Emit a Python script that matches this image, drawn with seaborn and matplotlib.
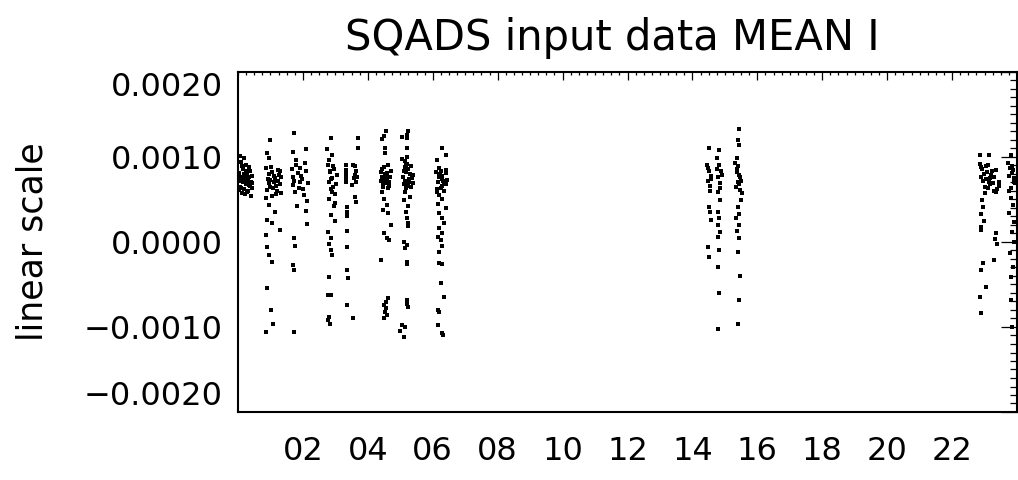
import pandas as pd
import matplotlib
matplotlib.use("Agg")
import matplotlib.pyplot as plt
import matplotlib.ticker as mticker
import seaborn as sns

# Values: hour of day and MEAN I (in units of 1e-4)
p1_hour = [0.02, 0.04, 0.06, 0.08, 0.10, 0.12, 0.14, 0.16, 0.18, 0.20, 0.22, 0.24, 0.26, 0.28, 0.30,
           0.32, 0.34, 0.36, 0.38, 0.40, 0.42, 0.44, 0.05, 0.09, 0.13, 0.17, 0.21, 0.25, 0.29, 0.33,
           0.37, 0.41, 0.03, 0.11, 0.19, 0.27, 0.35, 0.43]
p1_val = [7.2, 8.1, 6.5, 9.4, 7.7, 5.8, 8.6, 7.0, 6.2, 9.9, 7.5, 6.8, 8.3, 7.9, 6.0,
          7.3, 8.8, 6.6, 7.1, 5.4, 7.8, 6.9, 10.1, 6.4, 7.4, 8.0, 5.6, 9.1, 7.6, 6.7,
          8.4, 7.0, 6.1, 8.9, 7.2, 5.9, 7.7, 6.3]

p2_hour = [1.00, 0.90, 0.95, 0.86, 0.92, 0.98, 1.04, 1.10, 1.16, 1.22, 1.28, 1.34, 0.88, 0.94, 1.00,
           1.06, 1.12, 1.18, 1.24, 1.30, 0.87, 0.96, 1.02, 1.08, 1.14, 1.20, 1.26, 1.32, 0.95, 1.15,
           0.90, 1.05, 1.30, 0.85, 0.90, 0.95, 1.05, 0.88, 1.02, 1.08, 0.85]
p2_val = [12.0, 10.5, 9.9, 8.7, 7.4, 6.5, 8.2, 7.0, 5.6, 8.5, 6.8, 7.7, 6.1, 8.0, 7.3,
          5.4, 7.8, 6.6, 7.2, 8.4, 5.2, 6.9, 8.8, 6.3, 7.5, 6.0, 7.9, 5.8, 4.4, 3.5,
          2.6, 2.2, 1.4, 0.8, -0.6, -1.5, -2.3, -5.4, -8.0, -9.6, -10.6]

p3_hour = [1.72, 1.70, 2.10, 1.78, 1.65, 1.72, 1.80, 1.88, 1.95, 2.02, 2.10, 2.16, 1.68, 1.76, 1.84,
           1.92, 2.00, 2.06, 2.12, 1.70, 1.82, 1.90, 1.98, 2.08, 2.12, 1.72, 1.75, 1.70, 1.73, 1.72]
p3_val = [12.8, 10.6, 10.9, 9.6, 8.6, 7.2, 9.0, 6.4, 7.8, 5.5, 8.3, 6.9, 7.6, 5.9, 8.1,
          7.0, 6.2, 9.3, 4.8, 6.7, 4.2, 8.7, 7.4, 3.6, 2.1, 0.5, -0.5, -2.7, -3.3, -10.6]

p4_hour = [2.85, 2.75, 2.90, 2.80, 2.78, 2.84, 2.90, 2.96, 3.02, 2.80, 2.86, 2.92, 2.98, 3.04, 2.79,
           2.88, 2.94, 3.00, 2.82, 2.91, 2.97, 2.85, 3.00, 2.78, 2.85, 2.80, 2.85, 2.90, 2.80, 2.78,
           2.85, 2.80, 2.83, 2.78]
p4_val = [12.2, 10.9, 10.2, 9.7, 9.0, 8.2, 7.5, 8.6, 6.8, 7.1, 6.2, 8.9, 5.6, 7.9, 5.0,
          7.4, 6.5, 4.6, 8.4, 5.9, 4.2, 3.2, 2.5, 1.2, 0.5, -0.2, -1.0, -1.5, -4.1, -6.2,
          -6.2, -8.8, -9.6, -9.2]

p5_hour = [3.70, 3.70, 3.33, 3.33, 3.33, 3.33, 3.33, 3.55, 3.60, 3.65, 3.62, 3.58, 3.68, 3.63, 3.50,
           3.60, 3.65, 3.35, 3.35, 3.35, 3.35, 3.35, 3.35, 3.40, 3.35, 3.55]
p5_val = [12.2, 11.0, 9.0, 8.5, 8.0, 7.5, 7.0, 9.0, 8.9, 8.4, 7.9, 7.5, 7.6, 7.0, 6.7,
          5.3, 4.7, 4.1, 3.5, 3.0, 1.3, -0.6, -3.3, -4.2, -7.4, -8.9]

p6_hour = [4.55, 4.50, 4.45, 4.52, 4.52, 4.40, 4.45, 4.50, 4.55, 4.60, 4.65, 4.70, 4.42, 4.48, 4.53,
           4.58, 4.63, 4.68, 4.44, 4.49, 4.54, 4.59, 4.64, 4.47, 4.56, 4.61, 4.51, 4.45, 4.50, 4.60,
           4.48, 4.62, 4.70, 4.50, 4.58, 4.65, 4.40, 4.62, 4.55, 4.50, 4.55, 4.52, 4.60, 4.50]
p6_val = [13.0, 12.5, 12.1, 11.0, 10.5, 8.2, 7.6, 8.8, 7.0, 7.9, 6.6, 8.4, 7.2, 6.8, 8.0,
          7.4, 6.4, 7.7, 8.6, 7.3, 6.9, 8.1, 7.1, 6.5, 7.8, 9.0, 7.5, 5.9, 5.0, 4.4,
          3.8, 3.4, 2.0, 1.0, 0.5, 0.2, -2.1, -6.6, -7.0, -7.4, -7.8, -8.2, -8.6, -8.9]

p7_hour = [5.25, 5.20, 5.05, 5.20, 5.22, 5.05, 5.10, 5.15, 5.20, 5.25, 5.30, 5.35, 5.40, 5.08, 5.13,
           5.18, 5.23, 5.28, 5.33, 5.38, 5.12, 5.17, 5.22, 5.27, 5.32, 5.14, 5.24, 5.19, 5.15, 5.30,
           5.10, 5.25, 5.18, 5.22, 5.25, 5.25, 5.10, 5.20, 5.15, 5.22, 5.22, 5.22, 5.22, 5.25, 5.05,
           5.15, 5.10, 5.00]
p7_val = [13.0, 12.6, 12.3, 12.2, 11.0, 9.8, 8.4, 7.2, 9.2, 6.6, 8.0, 7.5, 6.9, 7.7, 9.5,
          6.4, 8.6, 7.1, 8.9, 7.9, 6.8, 8.2, 10.0, 7.4, 6.5, 8.8, 7.0, 9.1, 5.9, 5.3,
          4.9, 4.2, 3.5, 2.8, 2.2, 1.9, 0.0, -0.3, -0.7, -2.4, -2.6, -6.8, -7.3, -7.6, -9.8,
          -10.0, -11.2, -10.5]

p8_hour = [6.30, 6.12, 6.40, 6.10, 6.15, 6.20, 6.25, 6.30, 6.35, 6.40, 6.45, 6.12, 6.18, 6.24, 6.30,
           6.36, 6.42, 6.14, 6.22, 6.28, 6.34, 6.40, 6.20, 6.32, 6.20, 6.30, 6.15, 6.40, 6.20, 6.30,
           6.35, 6.20, 6.30, 6.15, 6.25, 6.30, 6.20, 6.20, 6.30, 6.25, 6.35, 6.15, 6.18, 6.15, 6.30,
           6.33]
p8_val = [11.0, 9.6, 10.2, 8.2, 7.1, 8.7, 6.4, 7.8, 6.9, 8.1, 7.3, 5.9, 7.6, 8.4, 6.6,
          7.0, 8.5, 6.2, 7.9, 7.4, 6.0, 6.8, 8.0, 7.2, 5.5, 5.0, 4.5, 4.0, 3.4, 2.8,
          2.2, 1.6, 1.0, 0.6, 0.2, -0.5, -1.2, -2.5, -2.6, -4.8, -6.5, -8.0, -8.2, -9.8, -10.7,
          -10.9]

p9_hour = [14.50, 14.46, 14.52, 14.58, 14.48, 14.55, 14.47, 14.53, 14.57, 14.50, 14.55, 14.58, 14.48, 14.52,
           14.82, 14.76, 14.82, 14.88, 14.79, 14.85, 14.77, 14.84, 14.90, 14.80, 14.85, 14.80, 14.83, 14.78,
           14.85, 14.80, 14.83, 14.78, 14.82, 14.80,
           15.45, 15.40, 15.42, 15.38, 15.32, 15.38, 15.44, 15.50, 15.35, 15.41, 15.47, 15.53, 15.36, 15.43,
           15.49, 15.39, 15.46, 15.40, 15.45, 15.35, 15.42, 15.38, 15.44, 15.40, 15.46, 15.42, 15.40]
p9_val = [11.0, 9.0, 8.4, 7.8, 7.2, 6.6, 8.7, 6.0, 7.4, 4.1, 3.5, 2.6, -0.6, -1.8,
          10.8, 9.9, 9.1, 8.3, 7.6, 6.9, 8.6, 6.3, 7.9, 5.9, 4.9, 3.5, 2.8, 2.0,
          1.2, 0.6, -0.9, -2.9, -6.0, -10.2,
          13.3, 12.0, 11.4, 9.9, 9.3, 8.6, 7.9, 7.2, 6.5, 8.9, 7.6, 5.8, 8.2, 6.8,
          4.9, 7.0, 6.1, 4.1, 3.3, 2.8, 2.0, 1.3, 0.5, -1.2, -4.0, -6.8, -9.6]

p10_hour = [22.85, 23.14, 22.86, 22.92, 22.98, 23.04, 23.10, 23.16, 23.22, 23.30, 23.38, 23.46,
            22.88, 22.95, 23.02, 23.08, 23.14, 23.20, 23.28, 23.36, 23.44,
            22.90, 23.00, 23.06, 23.12, 23.18, 23.26, 23.34,
            22.92, 22.95, 22.90, 22.98, 22.88, 22.90, 23.35, 23.32, 23.38, 23.30, 22.95, 22.88, 23.05,
            22.85, 22.90,
            23.80, 23.72, 23.78, 23.84, 23.90, 23.95, 23.75, 23.82, 23.88, 23.93, 23.76, 23.86, 23.92,
            23.80, 23.88, 23.76, 23.92, 23.85, 23.90, 23.78, 23.88, 23.82, 23.80, 23.85]
p10_val = [10.2, 10.2, 9.2, 8.6, 8.0, 7.4, 9.0, 6.8, 8.4, 7.7, 6.2, 7.1,
           8.8, 7.2, 6.5, 8.2, 7.0, 7.9, 6.0, 8.5, 6.6,
           7.6, 5.8, 8.9, 6.3, 7.5, 6.9, 5.9,
           4.9, 4.1, 3.3, 2.5, 1.8, 1.4, 1.0, 0.4, -0.2, -2.1, -2.5, -3.3, -5.3,
           -6.5, -8.4,
           10.2, 9.3, 8.7, 8.1, 7.5, 6.9, 7.8, 6.4, 8.5, 7.2, 6.0, 8.9, 7.0,
           5.2, 4.3, 3.4, 2.4, 1.2, 0.0, -1.3, -2.9, -4.1, -6.8, -10.0]

hour_ticks = [2, 4, 6, 8, 10, 12, 14, 16, 18, 20, 22]
hour_labels = ["02", "04", "06", "08", "10", "12", "14", "16", "18", "20", "22"]
value_ticks = [0.002, 0.001, 0.0, -0.001, -0.002]
value_labels = ["0.0020", "0.0010", "0.0000", "\u22120.0010", "\u22120.0020"]

passes = [(p1_hour, p1_val), (p2_hour, p2_val), (p3_hour, p3_val), (p4_hour, p4_val),
          (p5_hour, p5_val), (p6_hour, p6_val), (p7_hour, p7_val), (p8_hour, p8_val),
          (p9_hour, p9_val), (p10_hour, p10_val)]
frames = [pd.DataFrame({"hour": h, "mean_i": [x * 1e-4 for x in v]}) for h, v in passes]
data = pd.concat(frames, ignore_index=True)

sns.set_style("white")
plt.rcParams["font.family"] = ["DejaVu Sans"]
plt.rcParams["text.color"] = "black"

fig = plt.figure(figsize=(10.18, 4.80), dpi=100)
ax = fig.add_axes([238 / 1018, 1 - 412 / 480, 779 / 1018, 340 / 480])

sns.scatterplot(data=data, x="hour", y="mean_i", ax=ax, marker="s", s=5,
                color="black", linewidth=0, legend=False)

ax.set_xlim(0, 24)
ax.set_ylim(-0.002, 0.002)
ax.set_xlabel("")
ax.set_ylabel("")

ax.set_xticks(hour_ticks)
ax.set_xticklabels(hour_labels)
ax.xaxis.set_minor_locator(mticker.MultipleLocator(0.25))
ax.set_yticks(value_ticks)
ax.set_yticklabels(value_labels)
ax.yaxis.set_minor_locator(mticker.MultipleLocator(0.0001))

ax.tick_params(axis="both", which="both", direction="in", top=True, right=True,
               colors="black", labelcolor="black", width=0.9, labelsize=23)
ax.tick_params(axis="x", which="major", length=6, pad=17)
ax.tick_params(axis="x", which="minor", length=2.2)
ax.tick_params(axis="y", which="major", length=11.5, pad=11)
ax.tick_params(axis="y", which="minor", length=5)

# the end labels sit inside the axis range, like in the original
ylabs = ax.get_yticklabels()
ylabs[0].set_va("top")
ylabs[-1].set_va("bottom")

for side in ["left", "right", "top", "bottom"]:
    ax.spines[side].set_visible(True)
    ax.spines[side].set_color("black")
    ax.spines[side].set_linewidth(1.5)

fig.text(612 / 1018, 1 - 38 / 480, "SQADS input data MEAN I", fontsize=30,
         ha="center", va="center", color="black")
fig.text(33 / 1018, 1 - 242 / 480, "linear scale", fontsize=25, rotation=90,
         ha="center", va="center", color="black")

fig.savefig("out.png", dpi=100, facecolor="white")
